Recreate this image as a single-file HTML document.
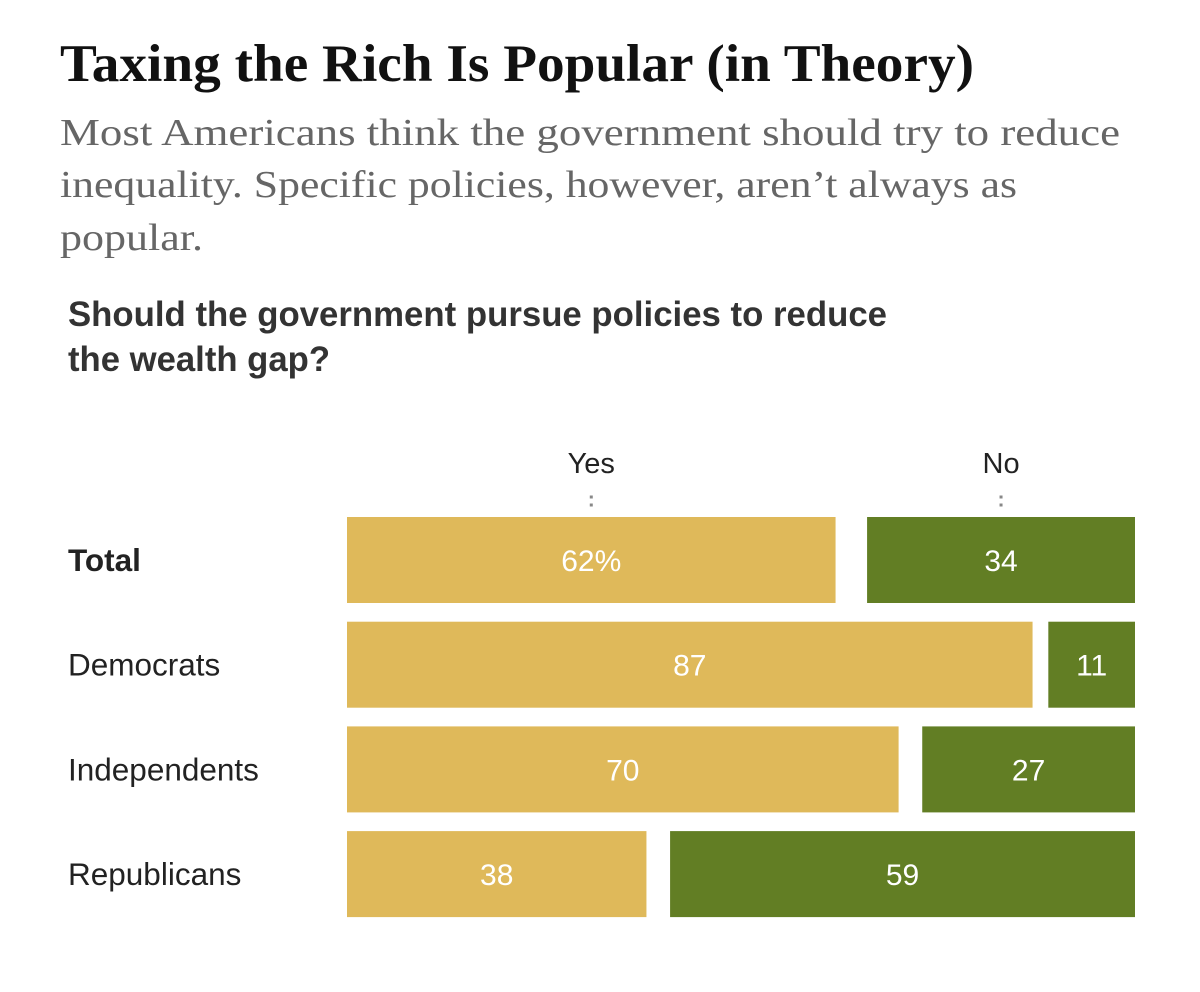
<!DOCTYPE html>
<html><head><meta charset="utf-8"><style>
html,body{margin:0;padding:0;background:#fff;}
svg{display:block;}
</style></head><body>
<svg id="chart" width="1200" height="992" viewBox="0 0 1200 992" xmlns="http://www.w3.org/2000/svg">
<text x="60" y="81" font-family="Liberation Serif, serif" font-weight="bold" font-size="53" fill="#111" textLength="914" lengthAdjust="spacingAndGlyphs">Taxing the Rich Is Popular (in Theory)</text>
<g font-family="Liberation Serif, serif" font-size="38" fill="#666">
<text x="60" y="145" textLength="1060" lengthAdjust="spacingAndGlyphs">Most Americans think the government should try to reduce</text>
<text x="60" y="197" textLength="957" lengthAdjust="spacingAndGlyphs">inequality. Specific policies, however, aren’t always as</text>
<text x="60" y="250" textLength="143" lengthAdjust="spacingAndGlyphs">popular.</text>
</g>
<g font-family="Liberation Sans, sans-serif" font-weight="bold" font-size="35" fill="#333">
<text x="68" y="326" textLength="819" lengthAdjust="spacingAndGlyphs">Should the government pursue policies to reduce</text>
<text x="68" y="371" textLength="262" lengthAdjust="spacingAndGlyphs">the wealth gap?</text>
</g>
<g id="plot"></g>
</svg>
<script>
const categories = ["Total","Democrats","Independents","Republicans"];
const yesValues = [62,87,70,38];
const noValues = [34,11,27,59];
const yesLabels = ["62%","87","70","38"];
const noLabels = ["34","11","27","59"];

const NS="http://www.w3.org/2000/svg";
const x0=347, xEnd=1135, pxPer=7.88;
const rowTop=517, rowPitch=104.7, barH=86;
const xScale=v=>v*pxPer;
const yScale=i=>rowTop+i*rowPitch;
const plot=document.getElementById('plot');
function mk(tag,attrs,txt){const e=document.createElementNS(NS,tag);for(const k in attrs)e.setAttribute(k,attrs[k]);if(txt!==undefined)e.textContent=txt;plot.appendChild(e);return e;}

const yesC=x0+xScale(yesValues[0])/2, noC=xEnd-xScale(noValues[0])/2;
let h=mk('text',{x:yesC,y:473,'text-anchor':'middle','font-family':'Liberation Sans, sans-serif','font-size':'29',fill:'#222'},'Yes');


h=mk('text',{x:noC,y:473,'text-anchor':'middle','font-family':'Liberation Sans, sans-serif','font-size':'29',fill:'#222'},'No');


[yesC,noC].forEach(cx=>{[497,505].forEach(cy=>{const d=mk('rect',{x:cx-1.5,y:cy-1.5,width:3,height:3,fill:'#888'});

});});

categories.forEach((c,i)=>{
  const y=yScale(i);
  const lab=mk('text',{x:68,y:y+barH/2+11,'font-family':'Liberation Sans, sans-serif','font-size':'31.5',fill:'#222','font-weight':i===0?'bold':'normal'},c);
  
  
  const yw=xScale(yesValues[i]);
  const yb=mk('rect',{x:x0,y:y,width:yw,height:barH,fill:'#dfb95a'});
  
  
  const yt=mk('text',{x:x0+yw/2,y:y+barH/2+11,'text-anchor':'middle','font-family':'Liberation Sans, sans-serif','font-size':'30',fill:'#fff'},yesLabels[i]);
  
  
  const nw=xScale(noValues[i]);
  const nb=mk('rect',{x:xEnd-nw,y:y,width:nw,height:barH,fill:'#627e24'});
  
  
  const nt=mk('text',{x:xEnd-nw/2,y:y+barH/2+11,'text-anchor':'middle','font-family':'Liberation Sans, sans-serif','font-size':'30',fill:'#fff'},noLabels[i]);
  
  
});
</script>
</body></html>
